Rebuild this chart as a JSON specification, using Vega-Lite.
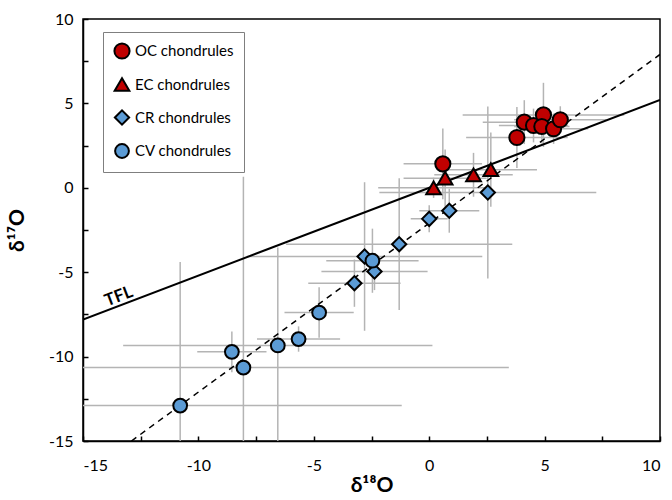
{
  "$schema": "https://vega.github.io/schema/vega-lite/v6.json",
  "autosize": {"type": "none"},
  "width": 577,
  "height": 422,
  "padding": {"left": 83, "top": 19, "right": 12, "bottom": 59},
  "config": {
    "font": "Lato",
    "view": {"stroke": "black", "strokeWidth": 1.5},
    "axis": {"grid": false, "domainColor": "black", "domainWidth": 1.5, "tickColor": "black", "tickWidth": 1.5, "labelColor": "black", "titleColor": "black", "labelFont": "Lato", "titleFont": "Lato"}
  },
  "datasets": {
    "pts": [
      {"group": "CR chondrules", "x": 2.54, "y": -0.28, "xerr": 4.7, "yerr": 5.1},
      {"group": "CR chondrules", "x": 0.87, "y": -1.36, "xerr": 1.3, "yerr": 1.3},
      {"group": "CR chondrules", "x": 0.0, "y": -1.84, "xerr": 0.8, "yerr": 0.8},
      {"group": "CR chondrules", "x": -1.3, "y": -3.34, "xerr": 4.9, "yerr": 3.9},
      {"group": "CR chondrules", "x": -2.8, "y": -4.07, "xerr": 5.1, "yerr": 4.4},
      {"group": "CR chondrules", "x": -2.37, "y": -4.96, "xerr": 2.3, "yerr": 1.1},
      {"group": "CR chondrules", "x": -3.24, "y": -5.65, "xerr": 2.0, "yerr": 1.4},
      {"group": "CV chondrules", "x": -2.46, "y": -4.32, "xerr": 2.0, "yerr": 1.9},
      {"group": "CV chondrules", "x": -4.77, "y": -7.39, "xerr": 1.5, "yerr": 1.5},
      {"group": "CV chondrules", "x": -5.66, "y": -8.96, "xerr": 1.8, "yerr": 0.75},
      {"group": "CV chondrules", "x": -6.56, "y": -9.34, "xerr": 6.7, "yerr": 5.8},
      {"group": "CV chondrules", "x": -8.55, "y": -9.72, "xerr": 1.5, "yerr": 1.2},
      {"group": "CV chondrules", "x": -8.05, "y": -10.65, "xerr": 11.5, "yerr": 11.3},
      {"group": "CV chondrules", "x": -10.79, "y": -12.9, "xerr": 9.6, "yerr": 8.5},
      {"group": "OC chondrules", "x": 0.59, "y": 1.42, "xerr": 1.7, "yerr": 2.1},
      {"group": "OC chondrules", "x": 3.8, "y": 2.98, "xerr": 2.2, "yerr": 1.8},
      {"group": "OC chondrules", "x": 4.12, "y": 3.89, "xerr": 1.8, "yerr": 1.3},
      {"group": "OC chondrules", "x": 4.52, "y": 3.69, "xerr": 1.5, "yerr": 1.0},
      {"group": "OC chondrules", "x": 4.95, "y": 4.32, "xerr": 3.5, "yerr": 1.9},
      {"group": "OC chondrules", "x": 4.88, "y": 3.63, "xerr": 1.2, "yerr": 1.0},
      {"group": "OC chondrules", "x": 5.39, "y": 3.5, "xerr": 1.5, "yerr": 0.9},
      {"group": "OC chondrules", "x": 5.68, "y": 4.03, "xerr": 2.0, "yerr": 0.8},
      {"group": "EC chondrules", "x": 0.19, "y": 0.0, "xerr": 2.4, "yerr": 0.6},
      {"group": "EC chondrules", "x": 0.69, "y": 0.57, "xerr": 1.8, "yerr": 1.7},
      {"group": "EC chondrules", "x": 1.92, "y": 0.77, "xerr": 1.7, "yerr": 1.3},
      {"group": "EC chondrules", "x": 2.67, "y": 1.07, "xerr": 2.0, "yerr": 2.2}
    ],
    "lines": [
      {"line": "TFL", "x": -15, "y": -7.8},
      {"line": "TFL", "x": 10, "y": 5.2},
      {"line": "CCAM", "x": -12.9, "y": -15},
      {"line": "CCAM", "x": 10, "y": 7.9}
    ],
    "labels": [
      {"text": "TFL", "x": -13.45, "y": -6.45}
    ]
  },
  "layer": [
    {
      "data": {"name": "pts"},
      "mark": {"type": "errorbar", "color": "#b4b4b4", "thickness": 1.5, "clip": true},
      "encoding": {
        "x": {"field": "x", "type": "quantitative", "title": "δ¹⁸O"},
        "xError": {"field": "xerr"},
        "y": {"field": "y", "type": "quantitative", "title": "δ¹⁷O"}
      }
    },
    {
      "data": {"name": "pts"},
      "mark": {"type": "errorbar", "color": "#b4b4b4", "thickness": 1.5, "clip": true},
      "encoding": {
        "y": {"field": "y", "type": "quantitative", "title": "δ¹⁷O"},
        "yError": {"field": "yerr"},
        "x": {"field": "x", "type": "quantitative", "title": "δ¹⁸O"}
      }
    },
    {
      "data": {"name": "lines"},
      "transform": [{"filter": "datum.line == 'TFL'"}],
      "mark": {"type": "line", "color": "black", "strokeWidth": 2, "clip": true},
      "encoding": {
        "x": {"field": "x", "type": "quantitative", "title": "δ¹⁸O"},
        "y": {"field": "y", "type": "quantitative", "title": "δ¹⁷O"}
      }
    },
    {
      "data": {"name": "lines"},
      "transform": [{"filter": "datum.line == 'CCAM'"}],
      "mark": {"type": "line", "color": "black", "strokeWidth": 1.5, "strokeDash": [6, 5], "clip": true},
      "encoding": {
        "x": {"field": "x", "type": "quantitative", "title": "δ¹⁸O"},
        "y": {"field": "y", "type": "quantitative", "title": "δ¹⁷O"}
      }
    },
    {
      "data": {"name": "labels"},
      "mark": {"type": "text", "fontWeight": "bold", "fontSize": 17, "angle": 339, "font": "Lato"},
      "encoding": {
        "x": {"field": "x", "type": "quantitative", "title": "δ¹⁸O"},
        "y": {"field": "y", "type": "quantitative", "title": "δ¹⁷O"},
        "text": {"field": "text"}
      }
    },
    {
      "data": {"name": "pts"},
      "mark": {"type": "point", "filled": true, "stroke": "black", "strokeWidth": 2, "opacity": 1},
      "encoding": {
        "x": {
          "field": "x", "type": "quantitative", "title": "δ¹⁸O",
          "scale": {"domain": [-15, 10], "nice": false, "zero": false},
          "axis": {
            "values": [-15, -12.5, -10, -7.5, -5, -2.5, 0, 2.5, 5, 7.5, 10],
            "labelExpr": "datum.value % 5 == 0 ? '' + datum.value : ''",
            "tickSize": -5,
            "labelPadding": 21,
            "labelFontSize": 16,
            "titleFontSize": 21,
            "titleFontWeight": "bold",
            "titlePadding": 1
          }
        },
        "y": {
          "field": "y", "type": "quantitative", "title": "δ¹⁷O",
          "scale": {"domain": [-15, 10], "nice": false, "zero": false},
          "axis": {
            "values": [-15, -12.5, -10, -7.5, -5, -2.5, 0, 2.5, 5, 7.5, 10],
            "labelExpr": "datum.value % 5 == 0 ? '' + datum.value : ''",
            "tickSize": -5,
            "labelPadding": 15,
            "labelFontSize": 16,
            "titleFontSize": 21,
            "titleFontWeight": "bold",
            "titlePadding": 21
          }
        },
        "color": {
          "field": "group", "type": "nominal",
          "scale": {"domain": ["OC chondrules", "EC chondrules", "CR chondrules", "CV chondrules"], "range": ["#c00000", "#c00000", "#5b9bd5", "#5b9bd5"]},
          "legend": {
            "title": null,
            "orient": "none",
            "legendX": 20,
            "legendY": 13,
            "strokeColor": "#7f7f7f",
            "fillColor": "white",
            "padding": 10,
            "rowPadding": 11,
            "labelFontSize": 15,
            "labelFont": "Lato",
            "labelColor": "black",
            "symbolSize": 120,
            "symbolStrokeColor": "black",
            "symbolStrokeWidth": 2,
            "symbolOpacity": 1,
            "labelOffset": 4
          }
        },
        "shape": {
          "field": "group", "type": "nominal",
          "scale": {"domain": ["OC chondrules", "EC chondrules", "CR chondrules", "CV chondrules"], "range": ["circle", "triangle-up", "diamond", "circle"]}
        },
        "size": {
          "field": "group", "type": "nominal",
          "scale": {"domain": ["OC chondrules", "EC chondrules", "CR chondrules", "CV chondrules"], "range": [230, 190, 150, 230]},
          "legend": null
        }
      }
    }
  ]
}
